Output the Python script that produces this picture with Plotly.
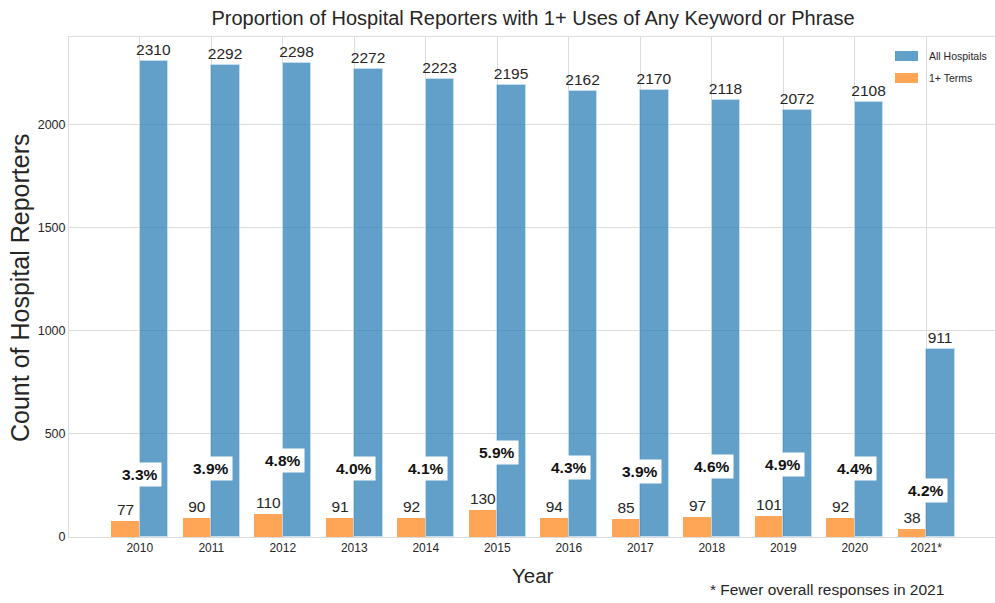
import plotly.graph_objects as go

years = ["2010", "2011", "2012", "2013", "2014", "2015", "2016", "2017", "2018", "2019", "2020", "2021*"]
all_hospitals = [2310, 2292, 2298, 2272, 2223, 2195, 2162, 2170, 2118, 2072, 2108, 911]
one_plus_terms = [77, 90, 110, 91, 92, 130, 94, 85, 97, 101, 92, 38]

FONT = "Liberation Sans, Arial, sans-serif"
TXT = "#262626"

xs = list(range(len(years)))
blue = "rgba(31,119,180,0.7)"
orange = "rgba(255,127,14,0.7)"

# plot-area geometry in pixels
L, R, T, B = 69, 995, 37, 537
W, H = R - L, B - T

def px(xp):
    return (xp - L) / W

def py(yp):
    return (B - yp) / H

fig = go.Figure()
fig.add_trace(go.Bar(
    x=[x - 0.2 for x in xs], y=one_plus_terms, width=0.4, name="1+ Terms",
    marker=dict(color=orange, line=dict(width=0)),
    text=[str(v) for v in one_plus_terms], textposition="outside",
    textfont=dict(family=FONT, size=15.5, color=TXT),
    constraintext="none", cliponaxis=False, showlegend=False,
))
fig.add_trace(go.Bar(
    x=[x + 0.2 for x in xs], y=all_hospitals, width=0.4, name="All Hospitals",
    marker=dict(color=blue, line=dict(width=1, color="rgba(200,225,245,0.8)")),
    text=[str(v) for v in all_hospitals], textposition="outside",
    textfont=dict(family=FONT, size=15.5, color=TXT),
    constraintext="none", cliponaxis=False, showlegend=False,
))

# percentage labels
for i, (a, b) in enumerate(zip(all_hospitals, one_plus_terms)):
    pct = 100.0 * b / a
    fig.add_annotation(
        x=i, y=2 * b + 150, xref="x", yref="y",
        text="<b>%.1f%%</b>" % pct, showarrow=False,
        font=dict(family=FONT, size=15.5, color="#111111"),
        bgcolor="white", borderpad=3,
    )

# manual legend
leg = [("All Hospitals", blue), ("1+ Terms", orange)]
for k, (name, col) in enumerate(leg):
    yc = 56 + k * 22
    fig.add_shape(type="rect", xref="paper", yref="paper",
                  x0=px(895), x1=px(918), y0=py(yc + 5), y1=py(yc - 5),
                  fillcolor=col, line=dict(width=0))
    fig.add_annotation(x=px(927), y=py(yc), xref="paper", yref="paper",
                       text=name, showarrow=False, xanchor="left", yanchor="middle",
                       font=dict(family=FONT, size=10.5, color=TXT))

fig.add_annotation(x=px(946), y=py(589), xref="paper", yref="paper",
                   text="* Fewer overall responses in 2021",
                   showarrow=False, xanchor="right", yanchor="middle",
                   font=dict(family=FONT, size=15.5, color=TXT))

fig.add_annotation(x=px(20), y=py(288), xref="paper", yref="paper",
                   text="Count of Hospital Reporters", textangle=-90,
                   showarrow=False, xanchor="center", yanchor="middle",
                   font=dict(family=FONT, size=25, color=TXT))

fig.add_annotation(x=px(533), y=py(575), xref="paper", yref="paper",
                   text="Year", showarrow=False, xanchor="center", yanchor="middle",
                   font=dict(family=FONT, size=20.5, color=TXT))

fig.update_layout(
    width=995, height=603,
    margin=dict(l=L, r=995 - R, t=T, b=603 - B),
    paper_bgcolor="white", plot_bgcolor="white",
    bargap=0, barmode="overlay",
    title=dict(text="Proportion of Hospital Reporters with 1+ Uses of Any Keyword or Phrase",
               x=533 / 995, xanchor="center", y=1 - 18 / 603, yanchor="middle",
               font=dict(family=FONT, size=20, color=TXT)),
    xaxis=dict(
        range=[-0.99, -0.99 + W / 71.5], tickmode="array", tickvals=xs, ticktext=years,
        showgrid=True, gridcolor="#dcdcdc", gridwidth=1,
        showline=True, linecolor="#dcdcdc", mirror=True, zeroline=False,
        ticks="", tickfont=dict(family=FONT, size=12, color=TXT),
    ),
    yaxis=dict(
        range=[0, 2425.5], tickmode="array", tickvals=[0, 500, 1000, 1500, 2000],
        showgrid=True, gridcolor="#dcdcdc", gridwidth=1,
        showline=True, linecolor="#dcdcdc", zeroline=False,
        ticks="", tickfont=dict(family=FONT, size=12.5, color=TXT),
    ),
)

fig.write_html("out.html", config={"displayModeBar": False},
               post_script="document.body.style.margin='0';")
